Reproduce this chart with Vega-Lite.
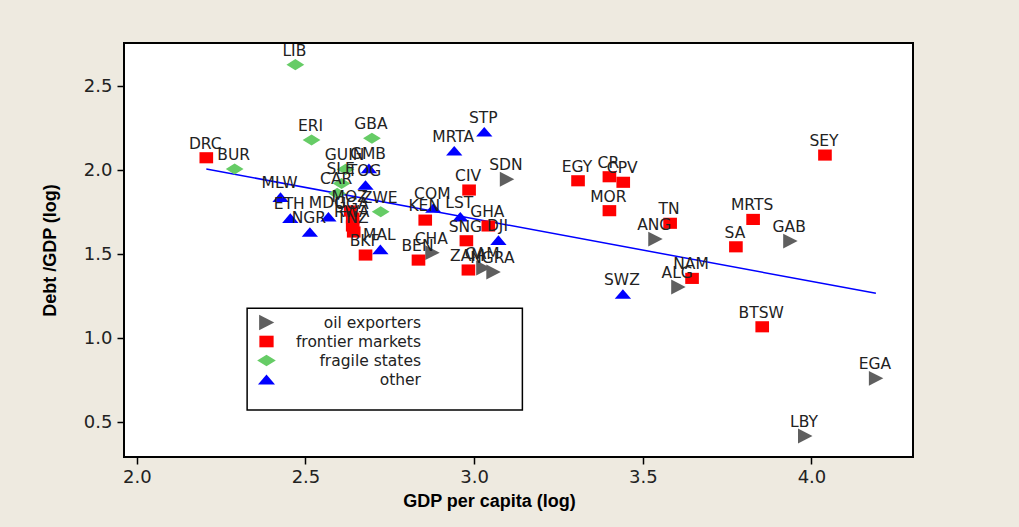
{"$schema":"https://vega.github.io/schema/vega-lite/v6.json","width":789,"height":414,"autosize":"none","padding":{"left":124,"top":43,"right":106,"bottom":70},"background":"#eeeae0","config":{"view":{"stroke":"#000000","strokeWidth":2,"fill":"#ffffff"}},"datasets":{"pts":[{"c":"LIB","g":"fragile states","x":2.47,"y":2.627},{"c":"DRC","g":"frontier markets","x":2.206,"y":2.073},{"c":"BUR","g":"fragile states","x":2.29,"y":2.006},{"c":"ERI","g":"fragile states","x":2.518,"y":2.179},{"c":"GBA","g":"fragile states","x":2.697,"y":2.189},{"c":"GUIN","g":"fragile states","x":2.619,"y":2.004},{"c":"GMB","g":"other","x":2.688,"y":2.01},{"c":"SLE","g":"fragile states","x":2.607,"y":1.92},{"c":"TOG","g":"other","x":2.678,"y":1.911},{"c":"CAR","g":"fragile states","x":2.594,"y":1.861},{"c":"MOZ","g":"frontier markets","x":2.634,"y":1.756},{"c":"ZWE","g":"fragile states","x":2.723,"y":1.752},{"c":"MDG","g":"other","x":2.568,"y":1.722},{"c":"UGA","g":"frontier markets","x":2.64,"y":1.714},{"c":"RWA","g":"frontier markets","x":2.64,"y":1.667},{"c":"TNZ","g":"frontier markets","x":2.643,"y":1.631},{"c":"BKF","g":"frontier markets","x":2.678,"y":1.494},{"c":"NGR","g":"other","x":2.513,"y":1.631},{"c":"MAL","g":"other","x":2.722,"y":1.528},{"c":"ETH","g":"other","x":2.455,"y":1.714},{"c":"MLW","g":"other","x":2.426,"y":1.839},{"c":"COM","g":"other","x":2.879,"y":1.774},{"c":"KEN","g":"frontier markets","x":2.855,"y":1.702},{"c":"CHA","g":"oil exporters","x":2.876,"y":1.508},{"c":"BEN","g":"frontier markets","x":2.835,"y":1.464},{"c":"CIV","g":"frontier markets","x":2.985,"y":1.881},{"c":"LST","g":"other","x":2.959,"y":1.722},{"c":"GHA","g":"frontier markets","x":3.042,"y":1.667},{"c":"SNG","g":"frontier markets","x":2.977,"y":1.579},{"c":"DJI","g":"other","x":3.072,"y":1.583},{"c":"MRTA","g":"other","x":2.941,"y":2.115},{"c":"STP","g":"other","x":3.03,"y":2.228},{"c":"SDN","g":"oil exporters","x":3.097,"y":1.945},{"c":"ZAM","g":"frontier markets","x":2.983,"y":1.405},{"c":"CAM","g":"oil exporters","x":3.027,"y":1.417},{"c":"NGRA","g":"oil exporters","x":3.057,"y":1.393},{"c":"EGY","g":"frontier markets","x":3.308,"y":1.936},{"c":"CR","g":"frontier markets","x":3.401,"y":1.96},{"c":"CPV","g":"frontier markets","x":3.442,"y":1.927},{"c":"MOR","g":"frontier markets","x":3.401,"y":1.758},{"c":"TN","g":"frontier markets","x":3.581,"y":1.683},{"c":"ANG","g":"oil exporters","x":3.537,"y":1.589},{"c":"MRTS","g":"frontier markets","x":3.827,"y":1.706},{"c":"SA","g":"frontier markets","x":3.776,"y":1.543},{"c":"GAB","g":"oil exporters","x":3.937,"y":1.577},{"c":"NAM","g":"frontier markets","x":3.646,"y":1.355},{"c":"ALG","g":"oil exporters","x":3.605,"y":1.304},{"c":"SWZ","g":"other","x":3.441,"y":1.262},{"c":"SEY","g":"frontier markets","x":4.04,"y":2.089},{"c":"BTSW","g":"frontier markets","x":3.854,"y":1.067},{"c":"EGA","g":"oil exporters","x":4.191,"y":0.76},{"c":"LBY","g":"oil exporters","x":3.981,"y":0.417}],"fit":[{"x":2.206,"y":2.006},{"x":4.191,"y":1.266}]},"layer":[{"data":{"name":"fit"},"mark":{"type":"line","color":"#0000ff","strokeWidth":1.5},"encoding":{"x":{"field":"x","type":"quantitative","scale":{"domain":[1.962,4.301],"nice":false,"zero":false},"axis":{"values":[2,2.5,3,3.5,4],"format":".1f","grid":false,"domain":false,"tickColor":"#000","tickSize":7,"tickWidth":1.5,"labelFont":"DejaVu Sans","labelFontSize":18,"labelColor":"#222","labelPadding":4,"title":"GDP per capita (log)","titleFont":"Liberation Sans","titleFontWeight":"bold","titleFontSize":18,"titleColor":"#000","titleX":365,"titlePadding":6}},"y":{"field":"y","type":"quantitative","scale":{"domain":[0.292,2.756],"nice":false,"zero":false},"axis":{"values":[0.5,1,1.5,2,2.5],"format":".1f","grid":false,"domain":false,"tickColor":"#000","tickSize":7,"tickWidth":1.5,"labelFont":"DejaVu Sans","labelFontSize":18,"labelColor":"#222","labelPadding":5,"title":"Debt /GDP (log)","titleFont":"Liberation Sans","titleFontWeight":"bold","titleFontSize":18,"titleColor":"#000","titlePadding":24}}}},{"mark":{"type":"rect","fill":"#ffffff","stroke":"#000000","strokeWidth":1.5},"data":{"values":[{}]},"encoding":{"x":{"datum":2.327},"x2":{"datum":3.143},"y":{"datum":1.177},"y2":{"datum":0.571}}},{"data":{"name":"pts"},"mark":{"type":"point","filled":true,"opacity":1},"encoding":{"x":{"field":"x","type":"quantitative"},"y":{"field":"y","type":"quantitative"},"color":{"field":"g","type":"nominal","scale":{"domain":["oil exporters","frontier markets","fragile states","other"],"range":["#5f5f5f","#ff0000","#66cc66","#0000ff"]},"legend":{"title":null,"orient":"none","legendX":134,"legendY":271,"labelAlign":"right","labelOffset":146,"labelFont":"DejaVu Sans","labelFontSize":15.5,"labelColor":"#222","rowPadding":2,"symbolSize":240,"padding":0}},"shape":{"field":"g","type":"nominal","scale":{"domain":["oil exporters","frontier markets","fragile states","other"],"range":["M-0.95,-1L1,0L-0.95,1Z","M-0.92,-0.75L0.92,-0.75L0.92,0.75L-0.92,0.75Z","M-1.2,0L0,-0.75L1.2,0L0,0.75Z","M-1.1,0.65L0,-0.65L1.1,0.65Z"]}},"size":{"value":220}}},{"data":{"name":"pts"},"mark":{"type":"text","align":"center","baseline":"alphabetic","dy":-9,"dx":-1,"font":"DejaVu Sans","fontSize":15.5,"color":"#222"},"encoding":{"x":{"field":"x","type":"quantitative"},"y":{"field":"y","type":"quantitative"},"text":{"field":"c"}}}]}
